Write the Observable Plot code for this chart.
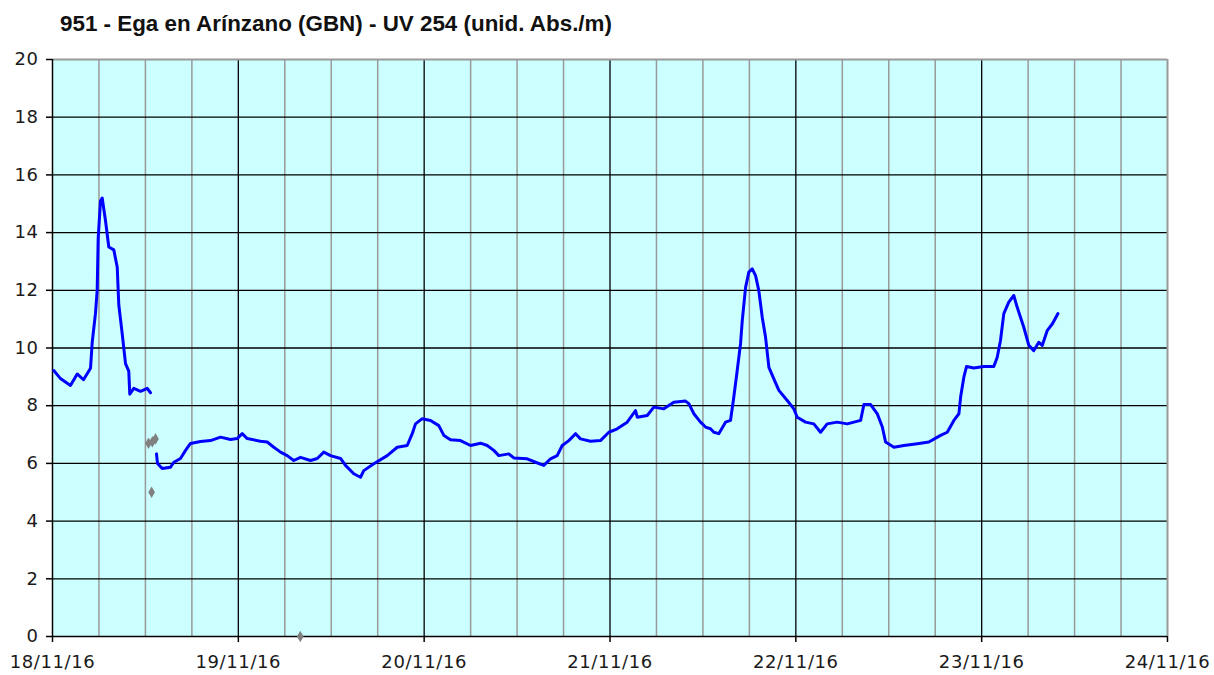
<!DOCTYPE html>
<html>
<head>
<meta charset="utf-8">
<script src="https://cdn.jsdelivr.net/npm/d3@7"></script>
<script src="https://cdn.jsdelivr.net/npm/@observablehq/plot@0.6"></script>
<style>
  html, body { margin: 0; padding: 0; background: #ffffff; }
  #wrap { position: relative; width: 1214px; height: 675px; overflow: hidden; }
  #title { position: absolute; left: 60px; top: 13px; font-family: "Liberation Sans", Arial, sans-serif; font-weight: bold; font-size: 22.4px; line-height: 1; color: #111; white-space: nowrap; }
</style>
</head>
<body>
<div id="wrap">
  <div id="title">951 - Ega en Arínzano (GBN) - UV 254 (unid. Abs./m)</div>
  <div id="chart"></div>
</div>
<script>
// Hours since 18/11/16 00:00 and UV 254 values (unid. Abs./m)
const hours1 = [0.17, 1.03, 2.32, 3.19, 4.00, 4.91, 5.13, 5.55, 5.77, 5.90, 6.20, 6.42, 6.85, 7.27, 7.92, 8.36, 8.56, 9.00, 9.43, 9.85, 9.98, 10.50, 11.37, 12.23, 12.66];
const uv1    = [9.22, 8.94, 8.70, 9.10, 8.90, 9.30, 10.20, 11.20, 12.00, 13.80, 15.10, 15.20, 14.40, 13.50, 13.40, 12.80, 11.50, 10.50, 9.46, 9.20, 8.40, 8.60, 8.50, 8.60, 8.45];

const hours2 = [13.43, 13.56, 14.17, 15.24, 15.67, 16.53, 17.18, 17.82, 19.11, 20.41, 21.70, 22.99, 23.85, 24.50, 25.15, 26.86, 27.73, 28.58, 29.45, 30.31, 31.16, 32.03, 33.32, 34.19, 35.04, 35.90, 37.20, 37.84, 38.91, 39.78, 40.20, 41.50, 43.23, 44.52, 45.81, 46.46, 46.88, 47.75, 48.82, 49.89, 50.54, 51.40, 52.69, 53.98, 55.28, 56.14, 56.99, 57.64, 58.93, 59.58, 61.31, 62.38, 63.45, 64.32, 65.18, 65.83, 66.68, 67.55, 68.19, 69.49, 70.77, 71.85, 72.93, 74.22, 75.30, 75.52, 76.81, 77.66, 78.95, 80.24, 81.75, 82.18, 82.83, 83.69, 84.34, 84.98, 85.41, 86.05, 86.92, 87.56, 87.99, 88.43, 88.86, 89.08, 89.51, 89.93, 90.37, 90.80, 91.22, 91.66, 92.09, 92.52, 93.16, 93.81, 94.89, 95.74, 96.18, 97.25, 98.32, 99.19, 100.05, 101.34, 102.64, 104.37, 104.79, 105.66, 106.52, 107.17, 107.59, 108.67, 109.96, 111.69, 113.18, 114.69, 115.56, 116.41, 117.06, 117.28, 117.70, 118.05, 118.99, 120.28, 121.57, 122.01, 122.43, 122.86, 123.50, 124.15, 124.59, 125.44, 126.09, 126.73, 127.38, 127.82, 128.46, 129.14, 129.84];
const uv2    = [6.33, 6.00, 5.82, 5.87, 6.04, 6.17, 6.45, 6.69, 6.76, 6.79, 6.91, 6.83, 6.86, 7.03, 6.86, 6.77, 6.74, 6.56, 6.39, 6.27, 6.10, 6.21, 6.10, 6.17, 6.39, 6.27, 6.17, 5.93, 5.64, 5.52, 5.75, 5.99, 6.27, 6.56, 6.62, 7.03, 7.37, 7.55, 7.49, 7.31, 6.97, 6.82, 6.79, 6.62, 6.70, 6.62, 6.45, 6.27, 6.33, 6.19, 6.16, 6.04, 5.93, 6.16, 6.27, 6.62, 6.79, 7.03, 6.85, 6.77, 6.79, 7.08, 7.20, 7.43, 7.83, 7.60, 7.66, 7.95, 7.89, 8.12, 8.16, 8.07, 7.72, 7.43, 7.26, 7.20, 7.08, 7.03, 7.43, 7.49, 8.30, 9.22, 10.15, 10.95, 12.10, 12.63, 12.74, 12.51, 11.99, 11.07, 10.37, 9.33, 8.93, 8.53, 8.18, 7.89, 7.60, 7.43, 7.37, 7.08, 7.37, 7.43, 7.37, 7.49, 8.04, 8.04, 7.72, 7.26, 6.74, 6.56, 6.62, 6.68, 6.74, 6.97, 7.08, 7.49, 7.72, 8.30, 8.99, 9.36, 9.31, 9.36, 9.36, 9.68, 10.26, 11.19, 11.59, 11.82, 11.41, 10.72, 10.09, 9.91, 10.20, 10.09, 10.60, 10.84, 11.19];

// Invalid / grey readings
const greyHours  = [12.40, 12.90, 13.30, 12.80, 32.00];
const greyValues = [6.70, 6.75, 6.85, 5.00, 0.00];

// Axis ticks
const dayHours  = [0, 24, 48, 72, 96, 120, 144];
const dayLabels = ["18/11/16", "19/11/16", "20/11/16", "21/11/16", "22/11/16", "23/11/16", "24/11/16"];
const sixHours  = [6, 12, 18, 30, 36, 42, 54, 60, 66, 78, 84, 90, 102, 108, 114, 126, 132, 138];
const yTicks    = [0, 2, 4, 6, 8, 10, 12, 14, 16, 18, 20];
const yGrid     = [2, 4, 6, 8, 10, 12, 14, 16, 18];

const seg1 = hours1.map((h, i) => ({h, v: uv1[i]}));
const seg2 = hours2.map((h, i) => ({h, v: uv2[i]}));
const grey = greyHours.map((h, i) => ({h, v: greyValues[i]}));

const chart = Plot.plot({
  width: 1214,
  height: 675,
  marginTop: 59,
  marginBottom: 39,
  marginLeft: 52,
  marginRight: 47,
  style: {fontFamily: "'DejaVu Sans', Verdana, sans-serif", fontSize: "18px", letterSpacing: "0.6px", color: "#1a1a1a", background: "transparent"},
  x: {type: "linear", domain: [0, 144], label: null},
  y: {type: "linear", domain: [0, 20], label: null},
  marks: [
    Plot.frame({fill: "#ccffff", stroke: null}),
    Plot.ruleX(sixHours, {stroke: "#999999", strokeWidth: 1.5}),
    Plot.ruleY(yGrid, {stroke: "#000000", strokeWidth: 1.3}),
    Plot.ruleX(dayHours.slice(1, 6), {stroke: "#000000", strokeWidth: 1.3}),
    Plot.ruleY([20], {stroke: "#999999", strokeWidth: 2}),
    Plot.ruleX([144], {stroke: "#999999", strokeWidth: 2}),
    Plot.ruleX([0], {stroke: "#000000", strokeWidth: 1.5}),
    Plot.ruleY([0], {stroke: "#000000", strokeWidth: 1.5}),
    Plot.line(seg1, {x: "h", y: "v", stroke: "#0000ff", strokeWidth: 3, curve: "linear"}),
    Plot.line(seg2, {x: "h", y: "v", stroke: "#0000ff", strokeWidth: 3, curve: "linear"}),
    Plot.dot(grey, {x: "h", y: "v", symbol: "diamond", r: 3.5, fill: "#808080", stroke: null}),
    Plot.axisX({ticks: dayHours, tickFormat: (d) => dayLabels[dayHours.indexOf(d)], tickSize: 6, tickPadding: 13, stroke: "#000", strokeWidth: 1.5}),
    Plot.axisY({ticks: yTicks, tickSize: 6, tickPadding: 8, stroke: "#000", strokeWidth: 1.5})
  ]
});
document.getElementById("chart").appendChild(chart);
</script>
</body>
</html>
